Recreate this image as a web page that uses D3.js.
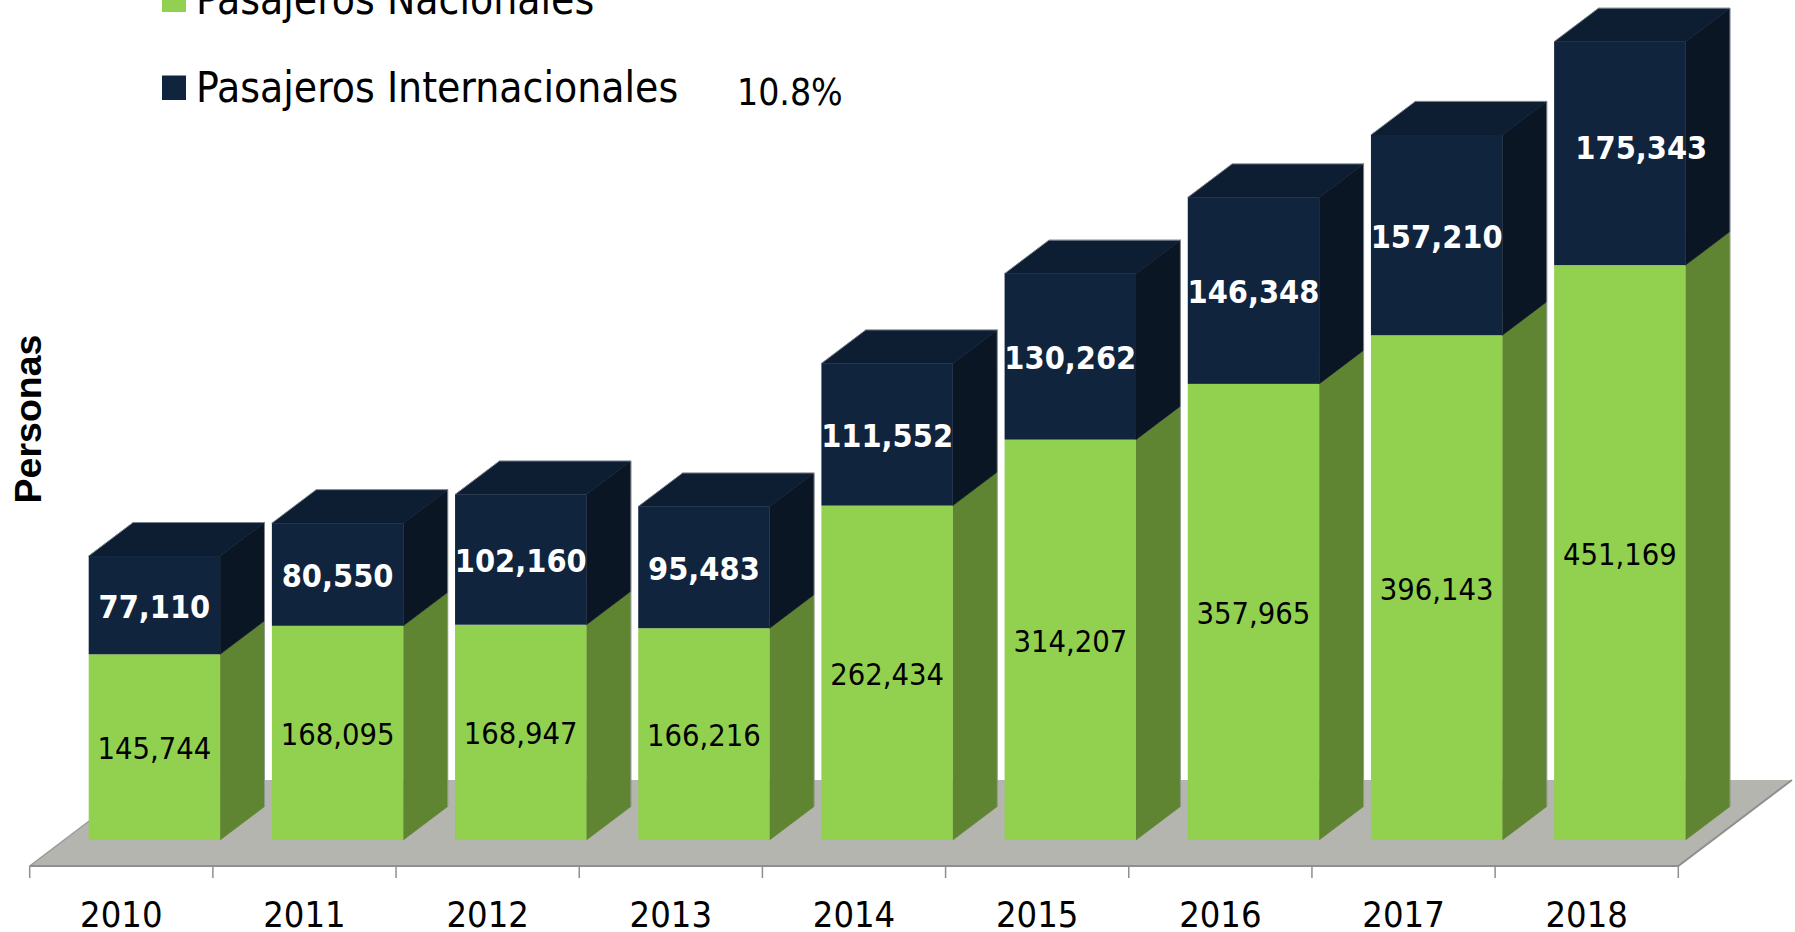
<!DOCTYPE html>
<html>
<head>
<meta charset="utf-8">
<script src="https://cdn.jsdelivr.net/npm/d3@7"></script>
<style>
    html, body { margin: 0; padding: 0; background: #fff; overflow: hidden; }
    text { font-family: "DejaVu Sans"; font-stretch: condensed; }
</style>
</head>
<body>
<div id="chart"></div>
<script>
var years = ["2010", "2011", "2012", "2013", "2014", "2015", "2016", "2017", "2018"];
var nacionales = [145744, 168095, 168947, 166216, 262434, 314207, 357965, 396143, 451169];
var internacionales = [77110, 80550, 102160, 95483, 111552, 130262, 146348, 157210, 175343];
var seriesNames = ["Pasajeros Nacionales", "Pasajeros Internacionales"];

var width = 1795;
var height = 932;
var svg = d3.select("#chart").append("svg")
    .attr("width", width)
    .attr("height", height);

// floor front edge and depth of the fake 3d
var floorY = 866;
var floorDx = 113.7, floorDy = 86;
var barDx = 44.4, barDy = 33.5;
var baseY = 840;

var x = d3.scaleBand()
    .domain(years)
    .range([29.7, 1678.3])
    .paddingInner(0)
    .paddingOuter(0);

var y = d3.scaleLinear()
    .domain([0, 626512])
    .range([baseY, 41.7]);

var barW = 131.4;
var barOffset = 59;

function poly(pts) {
    return pts.map(function(p) { return p.join(","); }).join(" ");
}

// floor
svg.append("polygon")
    .attr("points", poly([
        [x.range()[0], floorY],
        [x.range()[1], floorY],
        [x.range()[1] + floorDx, floorY - floorDy],
        [x.range()[0] + floorDx, floorY - floorDy]
    ]))
    .attr("fill", "#b3b5ae");
svg.append("path")
    .attr("d", "M" + x.range()[0] + "," + floorY + "L" + (x.range()[0] + floorDx) + "," + (floorY - floorDy))
    .attr("stroke", "#999").attr("stroke-width", 1.5).attr("fill", "none");
svg.append("path")
    .attr("d", "M" + x.range()[0] + "," + floorY + "L" + x.range()[1] + "," + floorY + "L" + (x.range()[1] + floorDx) + "," + (floorY - floorDy))
    .attr("stroke", "#8f8f8f").attr("stroke-width", 2).attr("fill", "none");

// x axis ticks sit on the slot edges
var tickPos = years.map(function(d) { return x(d); }).concat([x.range()[1]]);
svg.selectAll("line.tick").data(tickPos)
    .enter().append("line")
    .attr("class", "tick")
    .attr("x1", function(d) { return d; })
    .attr("x2", function(d) { return d; })
    .attr("y1", floorY)
    .attr("y2", floorY + 12)
    .attr("stroke", "#8f8f8f")
    .attr("stroke-width", 1.5);

svg.selectAll("text.year").data(years)
    .enter().append("text")
    .attr("class", "year")
    .attr("x", function(d) { return x(d) + x.bandwidth() / 2; })
    .attr("y", 926.5)
    .attr("text-anchor", "middle")
    .attr("font-size", 36)
    .text(function(d) { return d; });

var stacked = years.map(function(d, i) {
    return {
        year: d,
        segs: [
            { v0: 0, v1: nacionales[i], front: "#92d050", side: "#5f8532", top: "#92d050" },
            { v0: nacionales[i], v1: nacionales[i] + internacionales[i], front: "#10243e", side: "#0a1624", top: "#0d1d32" }
        ]
    };
});

var bars = svg.selectAll("g.bar").data(stacked)
    .enter().append("g")
    .attr("class", "bar");

bars.each(function(d) {
    var g = d3.select(this);
    var l = x(d.year) + barOffset;
    var r = l + barW;
    d.segs.forEach(function(s, si) {
        var y0 = y(s.v0), y1 = y(s.v1);
        g.append("polygon")
            .attr("points", poly([[r, y0], [r + barDx, y0 - barDy], [r + barDx, y1 - barDy], [r, y1]]))
            .attr("fill", s.side)
            .attr("stroke", s.side)
            .attr("stroke-width", 0.6);
        if (si == 1) {
            g.append("polygon")
                .attr("points", poly([[l, y1], [r, y1], [r + barDx, y1 - barDy], [l + barDx, y1 - barDy]]))
                .attr("fill", s.top)
                .attr("stroke", s.top)
                .attr("stroke-width", 0.6);
        }
        g.append("rect")
            .attr("x", l)
            .attr("y", y1)
            .attr("width", barW)
            .attr("height", y0 - y1)
            .attr("fill", s.front);
    });
    // thin gray line round the back of the block
    var yTop = y(d.segs[1].v1);
    g.append("path")
        .attr("d", "M" + l + "," + yTop + "L" + (l + barDx) + "," + (yTop - barDy) +
            "L" + (r + barDx) + "," + (yTop - barDy) + "L" + (r + barDx) + "," + (baseY - barDy))
        .attr("fill", "none")
        .attr("stroke", "#9aa0a6")
        .attr("stroke-width", 1)
        .attr("stroke-opacity", 0.7);
});

// value labels go on top of all the bars
bars.each(function(d, i) {
    var l = x(d.year) + barOffset;
    var n = d.segs[0], t = d.segs[1];
    svg.append("text")
        .attr("x", l + barW / 2)
        .attr("y", (y(n.v0) + y(n.v1)) / 2 + 1)
        .attr("dy", "0.36em")
        .attr("text-anchor", "middle")
        .attr("font-size", 30.6)
        .text(d3.format(",")(n.v1 - n.v0));
    // last label was moved by hand in the original
    var last = i == years.length - 1;
    svg.append("text")
        .attr("x", l + barW / 2 + (last ? 21.5 : 0))
        .attr("y", (y(t.v0) + y(t.v1)) / 2 + (last ? -6 : 1))
        .attr("dy", "0.36em")
        .attr("text-anchor", "middle")
        .attr("font-size", 32.2)
        .attr("font-weight", "bold")
        .attr("fill", "#fff")
        .text(d3.format(",")(t.v1 - t.v0));
});

// legend
var legendColors = ["#92d050", "#10243e"];
var legendY = d3.scaleOrdinal().domain(seriesNames).range([14, 102]);
seriesNames.forEach(function(name, i) {
    svg.append("rect")
        .attr("x", 162)
        .attr("y", legendY(name) - 26.5)
        .attr("width", 24)
        .attr("height", 24.5)
        .attr("fill", legendColors[i]);
    svg.append("text")
        .attr("x", 196)
        .attr("y", legendY(name))
        .attr("font-size", 42.2)
        .text(name);
});

svg.append("text")
    .attr("x", 737)
    .attr("y", 105)
    .attr("font-size", 37)
    .text("10.8%");

svg.append("text")
    .attr("transform", "translate(40.7,419) rotate(-90)")
    .attr("text-anchor", "middle")
    .attr("font-size", 37.5)
    .attr("font-weight", "bold")
    .style("font-family", "'Liberation Sans'")
    .style("font-stretch", "normal")
    .text("Personas");
</script>
</body>
</html>
